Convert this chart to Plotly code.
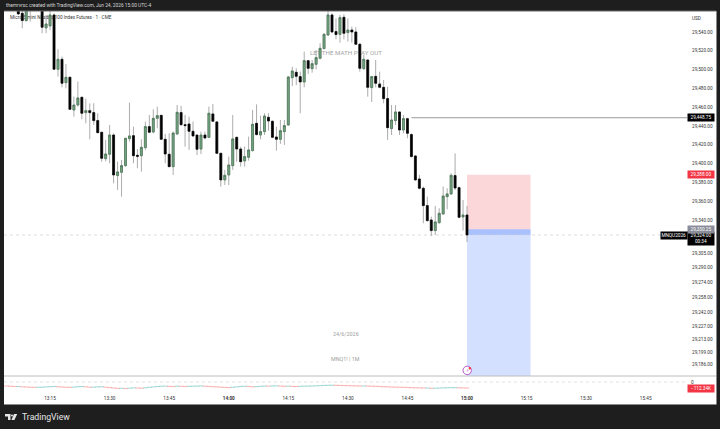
import pandas as pd
import plotly.graph_objects as go

# One-minute session of MNQ, 13:07 to 15:00
opens = [
    29567.0, 29559.9, 29552.1, 29564.1, 29572.3, 29570.0, 29567.0, 29544.3, 29546.4, 29558.1,
    29500.3, 29510.9, 29486.1, 29491.8, 29457.0, 29462.3, 29470.5, 29454.2, 29456.3, 29454.2,
    29445.7, 29433.3, 29405.2, 29409.9, 29430.4, 29387.2, 29390.7, 29397.8, 29426.5, 29429.7,
    29408.8, 29408.4, 29417.0, 29439.3, 29433.6, 29448.1, 29451.3, 29425.8, 29409.9, 29396.7,
    29431.5, 29454.2, 29441.4, 29442.1, 29434.3, 29430.4, 29415.5, 29430.4, 29427.9, 29452.8,
    29444.3, 29410.9, 29382.6, 29387.9, 29397.8, 29427.9, 29415.5, 29402.8, 29406.7, 29413.8,
    29442.8, 29430.4, 29434.0, 29449.2, 29445.0, 29428.3, 29425.8, 29434.0, 29441.1, 29491.4,
    29497.1, 29492.5, 29486.8, 29509.5, 29501.0, 29505.6, 29512.0, 29522.3, 29536.8, 29558.1,
    29540.4, 29537.5, 29555.6, 29539.3, 29542.1, 29540.0, 29526.9, 29501.0, 29510.2, 29480.8,
    29492.8, 29484.7, 29481.1, 29469.1, 29437.2, 29445.7, 29454.9, 29435.7, 29447.8, 29430.8,
    29408.1, 29383.6, 29373.7, 29355.3, 29340.0, 29328.7, 29337.2, 29346.4, 29364.8, 29367.7,
    29387.2, 29374.4, 29343.2, 29345.3,
]
highs = [
    29568.7, 29565.2, 29568.7, 29574.0, 29578.0, 29575.0, 29570.5, 29558.1, 29562.3, 29559.9,
    29521.6, 29513.8, 29506.0, 29492.5, 29471.2, 29487.2, 29471.2, 29469.1, 29464.1, 29464.1,
    29453.5, 29433.3, 29425.1, 29441.1, 29432.2, 29402.0, 29403.8, 29426.9, 29464.8, 29439.3,
    29415.5, 29425.8, 29444.6, 29451.7, 29457.7, 29460.6, 29451.7, 29431.5, 29432.2, 29434.0,
    29462.3, 29461.3, 29451.7, 29449.9, 29444.6, 29430.4, 29434.0, 29434.0, 29460.6, 29463.4,
    29445.0, 29411.6, 29393.2, 29407.4, 29451.7, 29428.6, 29418.0, 29418.0, 29428.6, 29457.0,
    29463.0, 29451.0, 29453.5, 29453.5, 29445.7, 29439.3, 29446.4, 29446.4, 29493.2, 29503.1,
    29501.3, 29497.8, 29519.1, 29510.2, 29510.2, 29520.8, 29528.0, 29538.6, 29562.3, 29559.9,
    29554.5, 29558.1, 29558.8, 29554.5, 29545.7, 29545.0, 29528.0, 29515.5, 29510.9, 29493.2,
    29510.2, 29497.8, 29488.9, 29481.8, 29462.3, 29462.3, 29455.2, 29451.7, 29448.75, 29432.2,
    29409.1, 29387.9, 29375.5, 29364.8, 29343.5, 29354.9, 29352.4, 29375.5, 29373.7, 29389.6,
    29410.9, 29375.5, 29361.3, 29354.9,
]
lows = [
    29558.1, 29543.9, 29551.0, 29551.0, 29566.0, 29565.0, 29538.6, 29538.6, 29542.1, 29500.0,
    29492.5, 29481.1, 29480.0, 29457.0, 29449.9, 29460.6, 29447.1, 29442.8, 29425.8, 29441.1,
    29432.2, 29402.0, 29402.4, 29400.3, 29379.0, 29371.9, 29364.8, 29396.7, 29423.3, 29400.3,
    29395.0, 29391.4, 29414.5, 29432.2, 29432.2, 29437.5, 29425.1, 29400.3, 29396.7, 29387.9,
    29430.4, 29440.0, 29418.0, 29414.5, 29428.6, 29409.1, 29410.2, 29425.8, 29427.2, 29444.3,
    29410.2, 29375.5, 29377.2, 29377.2, 29393.2, 29402.0, 29396.7, 29396.7, 29403.1, 29412.7,
    29430.0, 29425.8, 29430.4, 29435.0, 29426.9, 29413.8, 29420.9, 29419.8, 29440.0, 29482.5,
    29483.6, 29453.5, 29481.1, 29495.3, 29496.7, 29500.3, 29510.9, 29521.6, 29535.7, 29538.6,
    29532.2, 29528.6, 29532.2, 29529.7, 29528.6, 29526.2, 29497.8, 29499.6, 29471.2, 29465.5,
    29481.1, 29480.0, 29464.1, 29425.1, 29430.4, 29441.1, 29430.4, 29432.2, 29426.9, 29406.7,
    29381.8, 29372.6, 29336.5, 29338.2, 29323.0, 29324.0, 29335.7, 29345.3, 29351.3, 29366.6,
    29371.9, 29341.8, 29328.7, 29316.6,
]
closes = [
    29559.2, 29552.1, 29565.2, 29572.3, 29570.0, 29567.0, 29545.0, 29548.5, 29558.1, 29500.3,
    29510.9, 29485.4, 29491.8, 29457.7, 29462.3, 29469.8, 29453.5, 29456.3, 29454.2, 29445.7,
    29432.9, 29405.6, 29410.2, 29430.4, 29387.9, 29391.1, 29397.8, 29426.9, 29429.4, 29408.4,
    29407.7, 29417.3, 29439.3, 29433.3, 29448.1, 29451.0, 29425.8, 29410.2, 29396.7, 29432.5,
    29454.5, 29441.4, 29440.4, 29434.3, 29429.4, 29415.2, 29430.4, 29427.2, 29453.5, 29445.0,
    29410.9, 29382.6, 29387.5, 29398.5, 29426.2, 29415.5, 29402.0, 29407.4, 29414.5, 29441.8,
    29430.8, 29434.0, 29450.6, 29445.3, 29427.9, 29425.8, 29435.0, 29440.4, 29492.1, 29498.5,
    29492.8, 29486.8, 29509.5, 29501.3, 29506.3, 29512.7, 29522.6, 29537.5, 29558.1, 29540.0,
    29537.2, 29555.2, 29538.6, 29542.1, 29540.0, 29526.9, 29501.3, 29510.9, 29481.1, 29492.5,
    29485.4, 29481.1, 29469.1, 29438.2, 29446.4, 29454.9, 29435.7, 29447.8, 29432.2, 29407.4,
    29382.6, 29373.7, 29355.3, 29339.3, 29328.7, 29337.9, 29347.1, 29365.5, 29367.7, 29387.5,
    29374.0, 29342.8, 29345.3, 29324.0,
]
candle_times = pd.date_range("2026-06-24 13:07", periods=len(opens), freq="min")

# Lower study, thousands, 13:04 to 15:00
study_values = [
    -75, -78, -84, -84, -90, -94, -98, -100, -98, -96, -92, -88,
    -84, -88, -94, -98, -100, -96, -88, -84, -90, -98, -96, -92, -88, -96, -104,
    -112, -120, -118, -122, -116, -110, -112, -116, -108, -100,
    -92, -84, -80, -76, -82, -86, -78, -80, -84, -82, -78, -76, -74, -78, -84,
    -88, -92, -96, -100, -104, -98, -92, -84,
    -80, -84, -90, -86, -80, -76, -78, -74, -72, -76, -80, -78, -82, -84,
    -80, -78, -76, -74, -72, -68, -64, -62,
    -60, -62, -64, -66, -68, -70, -72, -74, -74, -76,
    -78, -80, -84, -88, -90, -94, -96, -98, -100, -102,
    -106, -108, -110, -112, -112, -118,
    -116, -114, -110, -108, -106, -106, -108, -110, -112.34,
]
study_times = pd.date_range("2026-06-24 13:04", periods=len(study_values), freq="min")

# Axis labels
price_ticks = [29540, 29520, 29500, 29480, 29460, 29440, 29420, 29400, 29380, 29360, 29340,
               29305, 29290, 29274, 29258, 29242, 29227, 29213, 29199, 29186]
time_ticks = ["13:15", "13:30", "13:45", "14:00", "14:15", "14:30", "14:45", "15:00", "15:15", "15:30", "15:45"]
bold_times = {"14:00", "15:00"}

# Levels
level_price = 29448.75
stop_price = 29388.00
entry_price = 29330.25
last_price = 29324.00
study_last = -112.34

WIDTH, HEIGHT = 720, 429
FONT = "Roboto, Arial, sans-serif"
DARK = "#1e1e1e"
AXIS_TEXT = "#333333"
SCALE_SIZE = 4.7


def px_x(v):
    return v / WIDTH


def px_y(v):
    return 1 - v / HEIGHT


fig = go.Figure()

# Gray wicks sit under a second candlestick layer that only carries the bodies
fig.add_trace(go.Candlestick(
    x=candle_times, open=opens, high=highs, low=lows, close=closes,
    increasing=dict(line=dict(color="#a3a3a3", width=0.9), fillcolor="#a3a3a3"),
    decreasing=dict(line=dict(color="#a3a3a3", width=0.9), fillcolor="#a3a3a3"),
    hoverinfo="skip", showlegend=False,
))
fig.add_trace(go.Candlestick(
    x=candle_times, open=opens, close=closes,
    high=[max(o, c) for o, c in zip(opens, closes)],
    low=[min(o, c) for o, c in zip(opens, closes)],
    increasing=dict(line=dict(color="#3f6f4e", width=0.6), fillcolor="#75a682"),
    decreasing=dict(line=dict(color="#000000", width=0.6), fillcolor="#000000"),
    hoverinfo="skip", showlegend=False,
))

# Horizontal level, from the candle after its high to the price scale
level_start = pd.Timestamp("2026-06-24 14:46")
chart_end = pd.Timestamp("2026-06-24 15:55:24")
chart_start = pd.Timestamp("2026-06-24 13:03:24")
fig.add_trace(go.Scatter(
    x=[level_start, chart_end], y=[level_price, level_price], mode="lines",
    line=dict(color="#9a9a9a", width=1), hoverinfo="skip", showlegend=False,
))

# Lower study as short dashes tinted by direction
study_colors = ["rgba(239,83,80,0.4)"]
for prev, cur in zip(study_values, study_values[1:]):
    study_colors.append("rgba(38,166,154,0.4)" if cur >= prev else "rgba(239,83,80,0.4)")
fig.add_trace(go.Scatter(
    x=study_times, y=study_values, mode="markers", xaxis="x2", yaxis="y2",
    marker=dict(symbol="line-ew", size=3.2, line=dict(width=1.1, color=study_colors)),
    hoverinfo="skip", showlegend=False,
))

box_start = pd.Timestamp("2026-06-24 15:00")
box_end = pd.Timestamp("2026-06-24 15:16")
y_top, y_bottom = 29562.3, 29174.0

shapes = [
    # White canvas panels over the dark page
    dict(type="rect", xref="paper", yref="paper", x0=px_x(4), x1=px_x(716), y0=px_y(404), y1=px_y(11),
         fillcolor="#ffffff", line=dict(width=0), layer="below"),
    # Position tool
    dict(type="rect", xref="x", yref="y", x0=box_start, x1=box_end, y0=entry_price, y1=stop_price,
         fillcolor="rgba(242,54,69,0.2)", line=dict(width=0), layer="below"),
    dict(type="rect", xref="x", yref="y", x0=box_start, x1=box_end, y0=y_bottom, y1=entry_price,
         fillcolor="rgba(41,98,255,0.2)", line=dict(width=0), layer="below"),
    dict(type="rect", xref="x", yref="y", x0=box_start, x1=box_end, y0=last_price, y1=entry_price,
         fillcolor="rgba(41,98,255,0.25)", line=dict(width=0), layer="below"),
    # Last price and study zero lines
    dict(type="line", xref="x", yref="y", x0=chart_start, x1=chart_end, y0=last_price, y1=last_price,
         line=dict(color="#d4d4d4", width=0.8, dash="dot"), layer="below"),
    dict(type="line", xref="x2", yref="y2", x0=chart_start, x1=chart_end, y0=0, y1=0,
         line=dict(color="#d8d8d8", width=0.8, dash="dot"), layer="below"),
    # Pane separators and frame
    dict(type="line", xref="paper", yref="paper", x0=px_x(4), x1=px_x(716), y0=px_y(376), y1=px_y(376),
         line=dict(color="#bdbdbd", width=1.2)),
    dict(type="line", xref="paper", yref="paper", x0=px_x(4), x1=px_x(716), y0=px_y(404.5), y1=px_y(404.5),
         line=dict(color="#8a8a8a", width=1)),
    dict(type="line", xref="paper", yref="paper", x0=px_x(716.5), x1=px_x(716.5), y0=px_y(404.5), y1=px_y(11),
         line=dict(color="#8a8a8a", width=1)),
    dict(type="line", xref="paper", yref="paper", x0=px_x(4), x1=px_x(716), y0=px_y(11), y1=px_y(11),
         line=dict(color="#6a6a6a", width=1)),
]


def under_candles(text, cx, cy, w, size, color, pos):
    # Text carried by an invisible shape so that candles paint over it
    return dict(type="rect", xref="paper", yref="paper",
                x0=px_x(cx), x1=px_x(cx + w), y0=px_y(cy + 4), y1=px_y(cy - 4),
                line=dict(width=0), fillcolor="rgba(0,0,0,0)", layer="below",
                label=dict(text=text, textposition=pos, padding=0,
                           font=dict(family=FONT, size=size, color=color)))


shapes += [
    under_candles("Micro E-mini Nasdaq-100 Index Futures · 1 · CME", 7, 16.5, 140, 4.7, "#333333", "middle left"),
    under_candles("LET THE MATH PLAY OUT", 296, 52.5, 100, 6.2, "#a5a5a5", "middle center"),
]


def logo_path(points):
    return "M" + " L".join(f"{px_x(a):.5f},{px_y(b):.5f}" for a, b in points) + " Z"


# Logo marks in the footer
shapes += [
    dict(type="path", xref="paper", yref="paper", line=dict(width=0), fillcolor="#e6e6e6",
         path=logo_path([(5, 414), (10.5, 414), (10.5, 420), (8, 420), (8, 416.4), (5, 416.4)])),
    dict(type="circle", xref="paper", yref="paper", x0=px_x(11), x1=px_x(13), y0=px_y(416.6), y1=px_y(414.4),
         line=dict(width=0), fillcolor="#e6e6e6"),
    dict(type="path", xref="paper", yref="paper", line=dict(width=0), fillcolor="#e6e6e6",
         path=logo_path([(14, 414), (17.2, 414), (14.4, 420), (11.4, 420)])),
    # Event marker on the time edge of the main pane
    dict(type="circle", xref="paper", yref="paper", x0=px_x(463), x1=px_x(471.4), y0=px_y(374.6), y1=px_y(366.2),
         line=dict(color="#bb55cc", width=1), fillcolor="#ffffff"),
    dict(type="circle", xref="paper", yref="paper", x0=px_x(468.6), x1=px_x(471), y0=px_y(369.4), y1=px_y(367),
         line=dict(width=0), fillcolor="#f23645"),
]


def note(text, x, y, size, color, xanchor="center", family=FONT):
    return dict(xref="paper", yref="paper", x=px_x(x), y=px_y(y), xanchor=xanchor, yanchor="middle",
                text=text, showarrow=False, font=dict(family=family, size=size, color=color))


def price_flag(text, price, bg, fg="#ffffff", height=7.4, width=26, x=701):
    return dict(xref="paper", yref="y", x=px_x(x), y=price, xanchor="center", yanchor="middle",
                text=text, showarrow=False, font=dict(family=FONT, size=SCALE_SIZE, color=fg), bgcolor=bg,
                width=width, height=height, borderpad=0, align="center")


annotations = [
    # Header and footer text
    note("themrvrsc created with TradingView.com, Jun 24, 2026 15:00 UTC-4", 4, 5.5, 4.85, "#d8d8d8", "left"),
    note("TradingView", 19.5, 417, 8.7, "#e6e6e6", "left"),
    # Watermark notes
    note("24/6/2026", 346, 334, 5.4, "#a0a0a0"),
    note("MNQ1! | 1M", 345, 359, 5.4, "#a0a0a0"),
    note("⚡", 467.2, 370.4, 4.5, "#bb55cc", family="DejaVu Sans"),
    # Scale labels
    note("USD", 696.5, 18, SCALE_SIZE, AXIS_TEXT),
    price_flag(f"{level_price:,.2f}", level_price, "#000000"),
    price_flag(f"{stop_price:,.2f}", stop_price, "#f23645"),
    price_flag(f"{last_price:,.2f}<br>00:34", last_price - 3.2, "#000000", height=13),
    price_flag(f"{entry_price:,.2f}", entry_price, "#8a8d99", height=6.5),
    price_flag("MNQU2026", last_price, "#000000", width=25.5, height=7, x=674),
    dict(xref="paper", yref="y2", x=px_x(692), y=0, xanchor="center", yanchor="middle", text="0", showarrow=False,
         font=dict(family=FONT, size=SCALE_SIZE, color=AXIS_TEXT)),
    dict(xref="paper", yref="y2", x=px_x(701), y=study_last, xanchor="center", yanchor="middle",
         text=f"{study_last:.2f}K".replace("-", "−"),
         showarrow=False, bgcolor="#f23645", width=26, height=6.5, borderpad=0,
         font=dict(family=FONT, size=SCALE_SIZE, color="#ffffff")),
]

domain_x = [px_x(4), px_x(687)]
fig.update_layout(
    width=WIDTH, height=HEIGHT, margin=dict(l=0, r=0, t=0, b=0),
    paper_bgcolor=DARK, plot_bgcolor="rgba(0,0,0,0)",
    boxgap=0.3, showlegend=False,
    shapes=shapes, annotations=annotations,
    xaxis=dict(domain=domain_x, type="date", range=[chart_start, chart_end], anchor="y",
               showgrid=False, zeroline=False, showticklabels=False, ticks="",
               rangeslider=dict(visible=False)),
    yaxis=dict(domain=[px_y(376), px_y(11)], range=[y_bottom, y_top], side="right", anchor="x",
               tickmode="array", tickvals=price_ticks, ticktext=[f"{p:,.2f}" for p in price_ticks],
               tickfont=dict(family=FONT, size=SCALE_SIZE, color=AXIS_TEXT), ticks="", ticklabelstandoff=4,
               showgrid=False, zeroline=False, showline=False),
    xaxis2=dict(domain=domain_x, type="date", range=[chart_start, chart_end], anchor="y2",
                tickmode="array",
                tickvals=[f"2026-06-24 {t}" for t in time_ticks],
                ticktext=[f"<b>{t}</b>" if t in bold_times else t for t in time_ticks],
                tickfont=dict(family=FONT, size=SCALE_SIZE, color=AXIS_TEXT), ticks="", ticklabelstandoff=2,
                showgrid=False, zeroline=False, showline=False),
    yaxis2=dict(domain=[px_y(392), px_y(377)], range=[-187, 93.6], anchor="x2", side="right",
                showticklabels=False, ticks="", showgrid=False, zeroline=False, showline=False),
)

fig.write_html("out.html", config=dict(displayModeBar=False))
